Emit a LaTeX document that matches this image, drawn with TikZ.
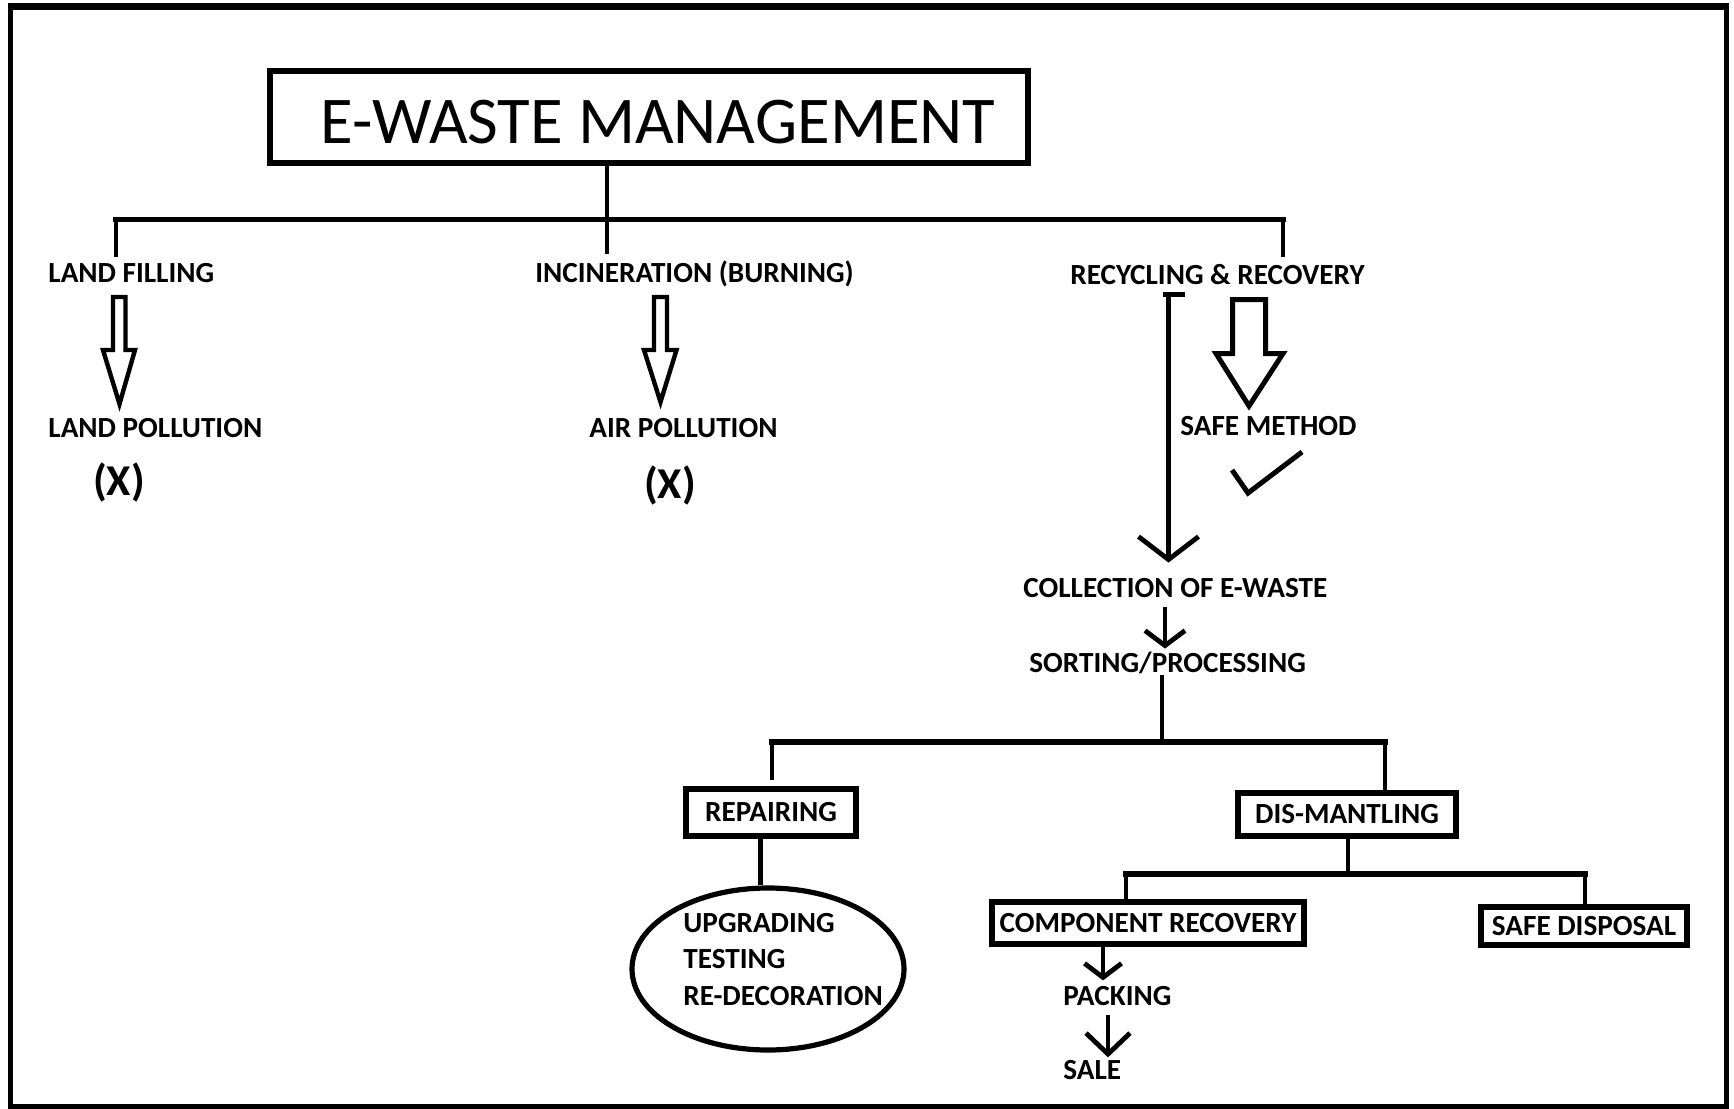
\documentclass[tikz,border=0pt]{standalone}
\usepackage{fontspec}
\setmainfont{Carlito}
\usetikzlibrary{arrows.meta,shapes.geometric}
\tikzset{
  conn/.style={line width=2.4pt, line cap=butt, line join=miter},
  barline/.style={line width=2.8pt, line cap=rect},
  lbl/.style={font=\bfseries\fontsize{14.6}{17}\selectfont, inner sep=0pt, text height=9.1pt, text depth=0pt, anchor=base west},
  xlbl/.style={font=\bfseries\fontsize{22}{26}\selectfont, inner sep=0pt, anchor=base},
  boxn/.style={draw, line width=2.8pt, inner sep=0pt, font=\bfseries\fontsize{14.6}{17}\selectfont, text height=9.1pt, text depth=0pt},
  hollow/.style={line width=2.2pt, line join=miter},
  frameline/.style={line width=2.5pt}
}
\begin{document}
\begin{tikzpicture}[x=0.5pt, y=-0.5pt]
\useasboundingbox (0,0) rectangle (1734,1108);
% frame
\draw[frameline] (10.5,6.5) rectangle (1726,1106);
\draw[line width=3.4pt] (8,6.5) -- (1728.5,6.5);

% title
\node[draw, line width=3pt, minimum width=379.25pt, minimum height=46.25pt, inner sep=0pt] (titlebox) at (648.75,116.75) {};
\node[font=\fontsize{33.4}{36}\selectfont, inner sep=0pt, anchor=base west] (title) at (320,143) {E-WASTE MANAGEMENT};

% first level labels
\node[lbl] (lf) at (48,282) {LAND FILLING};
\node[lbl] (inc) at (535,282) {INCINERATION (BURNING)};
\node[lbl] (rec) at (1070,284) {RECYCLING \& RECOVERY};
\node[lbl] (lp) at (48,437) {LAND POLLUTION};
\node[lbl] (ap) at (589,437) {AIR POLLUTION};
\node[xlbl] (x1) at (119,495) {(X)};
\node[xlbl] (x2) at (670,498) {(X)};
\node[lbl] (sm) at (1180,435) {SAFE METHOD};
\node[lbl] (coll) at (1023,597) {COLLECTION OF E-WASTE};
\node[lbl] (sort) at (1029,672) {SORTING/PROCESSING};

% boxes
\node[boxn, minimum width=85pt, minimum height=23.5pt] (rep) at (771,812.5) {REPAIRING};
\node[boxn, minimum width=109pt, minimum height=21.5pt] (dis) at (1347,814.5) {DIS-MANTLING};
\node[boxn, minimum width=156pt, minimum height=21pt] (comp) at (1148,923) {COMPONENT RECOVERY};
\node[boxn, minimum width=103pt, minimum height=19pt] (sd) at (1584,926) {SAFE DISPOSAL};
\node[draw, ellipse, line width=2.6pt, minimum width=136pt, minimum height=81pt, inner sep=0pt] (ell) at (768,969) {};
\node[lbl] (up) at (683,932) {UPGRADING};
\node[lbl] (te) at (683,968) {TESTING};
\node[lbl] (rd) at (683,1005) {RE-DECORATION};
\node[lbl] (pk) at (1063,1005) {PACKING};
\node[lbl] (sale) at (1063,1079) {SALE};

% top tree
\coordinate (bar1) at (607,219.5);
\coordinate (d1) at (116,257);
\coordinate (d2) at (607,254);
\coordinate (d3) at (1283,257);
\draw[conn] (titlebox.south -| d2) -- (d2);
\draw[barline] (d1 |- bar1) -- (d3 |- bar1);
\draw[conn] (d1 |- bar1) -- (d1);
\draw[conn] (d3 |- bar1) -- (d3);

% hollow arrows
\draw[hollow] (113,297) -- (125.5,297) -- (125.5,350) -- (135,350) -- (119.5,404) -- (103,350) -- (113,350) -- cycle;
\draw[hollow] (654,297) -- (667,297) -- (667,350) -- (676.5,350) -- (660.5,402) -- (644,350) -- (654,350) -- cycle;
\draw[line width=2.5pt, line join=miter] (1232.5,299.5) -- (1265.5,299.5) -- (1265.5,353.5) -- (1283,353.5) -- (1249,406) -- (1216,353.5) -- (1232.5,353.5) -- cycle;

% check mark
\draw[line width=2.5pt, line join=miter] (1232,470) -- (1248,493) -- (1302,452);

% long arrow recycling -> collection
\coordinate (la) at (1168.5,294.5);
\draw[conn] ([xshift=-2.75pt]la) -- ([xshift=8.25pt]la);
\draw[conn, -{Straight Barb[length=11.5pt,width=30pt]}, shorten >=7.9pt] (la) -- (coll.north -| la);

% collection -> sorting
\coordinate (cs) at (1165,600);
\draw[conn, -{Straight Barb[length=7.5pt,width=20pt]}, shorten <=5pt, shorten >=2.4pt] (coll.south -| cs) -- (sort.north -| cs);

% sorting tree
\coordinate (bar2) at (1162,742);
\coordinate (r1) at (772,780);
\coordinate (r2) at (1385,790);
\draw[conn, shorten <=1.5pt] (sort.south -| bar2) -- (bar2);
\draw[barline] (r1 |- bar2) -- (r2 |- bar2);
\draw[conn] (r1 |- bar2) -- (r1);
\draw[conn] (r2 |- bar2) -- (dis.north -| r2);

% repairing -> ellipse
\coordinate (re) at (760.5,860);
\draw[conn] (rep.south -| re) -- (ell.north -| re);

% dismantling tree
\coordinate (bar3) at (1348,874);
\coordinate (s1) at (1126,880);
\coordinate (s2) at (1585,880);
\draw[conn] (dis.south -| bar3) -- (bar3);
\draw[barline] (s1 |- bar3) -- (s2 |- bar3);
\draw[conn] (s1 |- bar3) -- (comp.north -| s1);
\draw[conn] (s2 |- bar3) -- (sd.north -| s2);

% component recovery -> packing -> sale
\coordinate (cp) at (1103,960);
\draw[conn, -{Straight Barb[length=7pt,width=18.5pt]}, shorten >=3pt] (comp.south -| cp) -- (pk.north -| cp);
\coordinate (ps) at (1108,1030);
\draw[conn, -{Straight Barb[length=10.5pt,width=22pt]}, shorten <=5pt, shorten >=1.5pt] (pk.south -| ps) -- (sale.north -| ps);
\end{tikzpicture}
\end{document}
